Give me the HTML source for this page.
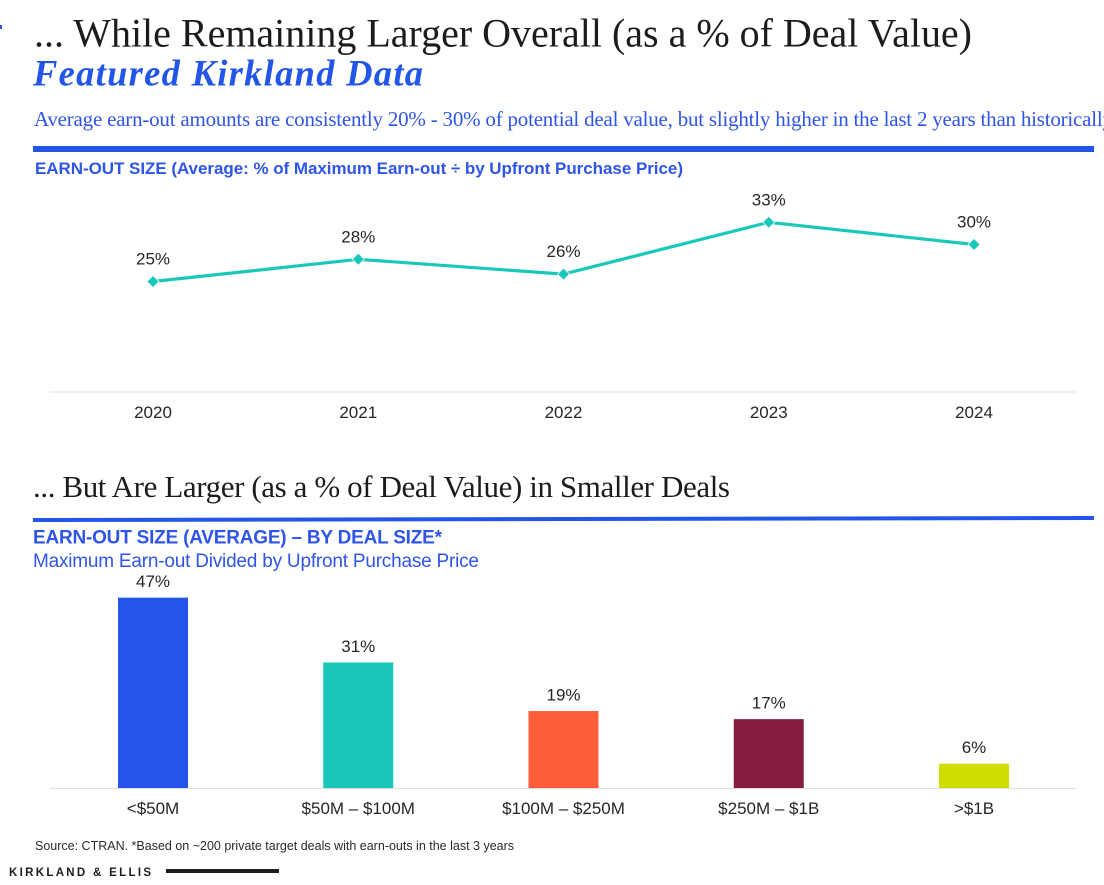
<!DOCTYPE html>
<html lang="en">
<head>
<meta charset="utf-8">
<title>Earn-out size</title>
<style>
html,body{margin:0;padding:0;background:#fff;width:1104px;height:885px;overflow:hidden}
svg{display:block}
.serif{font-family:"Liberation Serif",serif}
.sans{font-family:"Liberation Sans",sans-serif}
</style>
</head>
<body>
<svg id="chart" xmlns="http://www.w3.org/2000/svg" width="1104" height="885" viewBox="0 0 1104 885">
  <rect x="0" y="0" width="1104" height="885" fill="#ffffff"/>
  <rect x="0" y="25" width="2" height="4" fill="#2255e8"/>
  <text class="serif" x="34" y="46.5" font-size="40" fill="#1c1c1c" textLength="938">... While Remaining Larger Overall (as a % of Deal Value)</text>
  <text class="serif" x="33" y="85.5" font-size="36.5" font-weight="bold" font-style="italic" fill="#2255e8" textLength="390">Featured Kirkland Data</text>
  <text class="serif" x="34" y="126" font-size="21" fill="#2f55e6" textLength="1079">Average earn-out amounts are consistently 20% - 30% of potential deal value, but slightly higher in the last 2 years than historically</text>
  <rect x="33" y="146" width="1061" height="6" fill="#2255e8"/>
  <text class="sans" x="35" y="174" font-size="17" font-weight="bold" fill="#2f55e6" textLength="648">EARN-OUT SIZE (Average: % of Maximum Earn-out ÷ by Upfront Purchase Price)</text>
  <line x1="50" y1="392" x2="1077" y2="392" stroke="#e0e0e0" stroke-width="1"/>
  <g id="line-chart"></g>
  <text class="serif" x="33" y="497" font-size="31" fill="#1c1c1c" textLength="697">... But Are Larger (as a % of Deal Value) in Smaller Deals</text>
  <polygon points="33,518 1094,516 1094,520 33,522" fill="#2255e8"/>
  <text class="sans" x="33" y="543.5" font-size="19" font-weight="bold" fill="#2f55e6" textLength="409">EARN-OUT SIZE (AVERAGE) – BY DEAL SIZE*</text>
  <text class="sans" x="33" y="567" font-size="19" fill="#2f55e6" textLength="446">Maximum Earn-out Divided by Upfront Purchase Price</text>
  <g id="bar-chart"></g>
  <line x1="50" y1="788.5" x2="1077" y2="788.5" stroke="#e0e0e0" stroke-width="1"/>
  <text class="sans" x="35" y="850" font-size="12.5" fill="#2a2a2a" textLength="479">Source: CTRAN. *Based on ~200 private target deals with earn-outs in the last 3 years</text>
  <text class="sans" x="9" y="876" font-size="11.5" font-weight="bold" fill="#1c1c1c" textLength="142">KIRKLAND &amp; ELLIS</text>
  <rect x="166" y="869" width="113" height="4" fill="#1c1c1c"/>
</svg>
<script>
const years = ['2020', '2021', '2022', '2023', '2024'];
const earnOutPct = [25, 28, 26, 33, 30];
const dealSizes = ['<$50M', '$50M – $100M', '$100M – $250M', '$250M – $1B', '>$1B'];
const dealSizePct = [47, 31, 19, 17, 6];
const barColors = ['#2255e8', '#1ac8ba', '#ff5c39', '#861c40', '#cfdd00'];

const NS = 'http://www.w3.org/2000/svg';
function xCategory(i, n) { return 153 + i * (974 - 153) / (n - 1); }
function yLine(v) { return 392.5 - (v - 10) * 7.4; }
function yBar(v) { return 788 - v * 4.05; }

function make(tag, attrs, parent) {
  const el = document.createElementNS(NS, tag);
  for (const k in attrs) el.setAttribute(k, attrs[k]);
  parent.appendChild(el);
  return el;
}

const lineGroup = document.getElementById('line-chart');
const barGroup = document.getElementById('bar-chart');

const linePts = earnOutPct.map((v, i) => xCategory(i, years.length).toFixed(1) + ',' + yLine(v).toFixed(1)).join(' ');
const seriesLine = make('polyline', {points: linePts, fill: 'none', stroke: '#1ac8ba', 'stroke-width': 3.2, 'stroke-linejoin': 'round'}, lineGroup);



earnOutPct.forEach((v, i) => {
  const x = xCategory(i, years.length);
  const y = yLine(v);
  const s = 5.5;
  const marker = make('polygon', {points: `${x},${y - s} ${x + s},${y} ${x},${y + s} ${x - s},${y}`, fill: '#1ac8ba', stroke: '#ffffff', 'stroke-width': 1.5, 'paint-order': 'stroke'}, lineGroup);
  
  
  const label = make('text', {x: x, y: y - 17, 'text-anchor': 'middle', class: 'sans', 'font-size': 17, fill: '#262626'}, lineGroup);
  label.textContent = v + '%';
  
  
  const tick = make('text', {x: x, y: 418, 'text-anchor': 'middle', class: 'sans', 'font-size': 17, fill: '#262626'}, lineGroup);
  tick.textContent = years[i];
  
  
});

dealSizePct.forEach((v, i) => {
  const x = xCategory(i, dealSizes.length);
  const y = yBar(v);
  const bar = make('rect', {x: x - 35, y: y, width: 70, height: 788 - y, fill: barColors[i]}, barGroup);
  
  
  const label = make('text', {x: x, y: y - 10.5, 'text-anchor': 'middle', class: 'sans', 'font-size': 17, fill: '#262626'}, barGroup);
  label.textContent = v + '%';
  
  
  const tick = make('text', {x: x, y: 814, 'text-anchor': 'middle', class: 'sans', 'font-size': 17, fill: '#262626'}, barGroup);
  tick.textContent = dealSizes[i];
  
  
});
</script>
</body>
</html>
